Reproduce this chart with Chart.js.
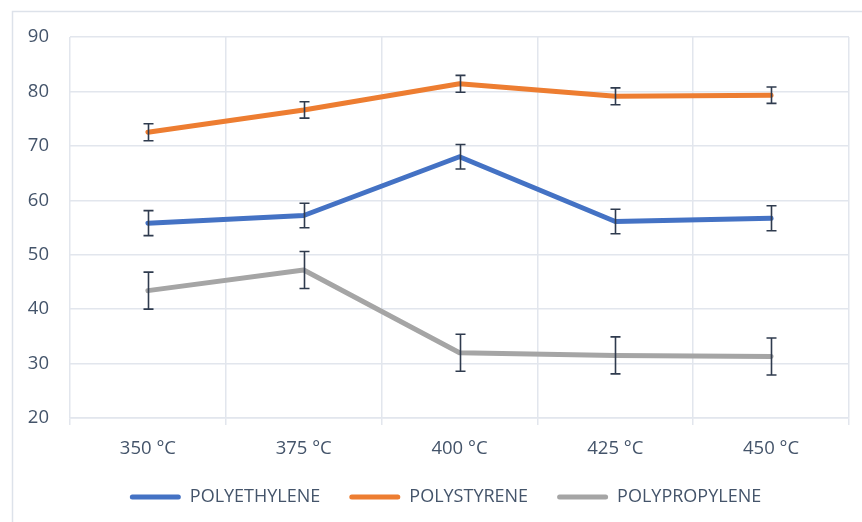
<!DOCTYPE html>
<html>
<head>
<meta charset="utf-8">
<script src="https://cdn.jsdelivr.net/npm/chart.js@4"></script>
<style>
  html, body { margin: 0; padding: 0; background: #ffffff; }
  #wrap { width: 862px; height: 522px; }
</style>
</head>
<body>
<div id="wrap"><canvas id="c" width="862" height="522"></canvas></div>
<script>
const categories = ['350 °C', '375 °C', '400 °C', '425 °C', '450 °C'];
const seriesNames = ['POLYETHYLENE', 'POLYSTYRENE', 'POLYPROPYLENE'];
const polyethylene = [55.8, 57.2, 68.0, 56.1, 56.7];
const polystyrene = [72.5, 76.6, 81.4, 79.1, 79.3];
const polypropylene = [43.4, 47.2, 32.0, 31.5, 31.3];
const polyethyleneErr = [2.3, 2.25, 2.25, 2.25, 2.3];
const polystyreneErr = [1.55, 1.5, 1.55, 1.55, 1.5];
const polypropyleneErr = [3.4, 3.4, 3.4, 3.4, 3.4];
const yTicks = [20, 30, 40, 50, 60, 70, 80, 90];

const colors = ['#4472C4', '#ED7D31', '#A5A5A5'];
const textColor = '#44546A';
const gridColor = '#E2E6ED';
const fontFamily = '"Open Sans", "Liberation Sans", sans-serif';

const values = [polyethylene, polystyrene, polypropylene];
const errors = [polyethyleneErr, polystyreneErr, polypropyleneErr];

const frame = {
  id: 'frame',
  beforeDraw(chart) {
    const ctx = chart.ctx;
    ctx.save();
    ctx.strokeStyle = '#DDE2EA';
    ctx.lineWidth = 1.5;
    ctx.beginPath();
    ctx.moveTo(12.5, chart.height);
    ctx.lineTo(12.5, 11.5);
    ctx.lineTo(chart.width, 11.5);
    ctx.stroke();
    ctx.restore();
  }
};

const legendShift = {
  id: 'legendShift',
  afterLayout(chart) {
    const lg = chart.legend;
    if (lg) { lg.left -= 14; lg.right -= 14; lg.top -= 5; lg.bottom -= 5; }
  }
};

const errorBars = {
  id: 'errorBars',
  afterDatasetsDraw(chart) {
    const ctx = chart.ctx;
    const x = chart.scales.x, y = chart.scales.y;
    ctx.save();
    ctx.strokeStyle = '#2F3B4E';
    ctx.lineWidth = 1.6;
    values.forEach((vals, si) => {
      vals.forEach((v, i) => {
        const px = Math.round(x.getPixelForValue(i)) + 0.5;
        const top = y.getPixelForValue(v + errors[si][i]);
        const bot = y.getPixelForValue(v - errors[si][i]);
        ctx.beginPath();
        ctx.moveTo(px, top); ctx.lineTo(px, bot);
        ctx.moveTo(px - 5, top); ctx.lineTo(px + 5, top);
        ctx.moveTo(px - 5, bot); ctx.lineTo(px + 5, bot);
        ctx.stroke();
      });
    });
    ctx.restore();
  }
};

new Chart(document.getElementById('c'), {
  type: 'line',
  data: {
    labels: categories,
    datasets: values.map((v, i) => ({
      label: seriesNames[i],
      data: v,
      borderColor: colors[i],
      backgroundColor: colors[i],
      borderWidth: 5,
      pointRadius: 0,
      pointHoverRadius: 0,
      tension: 0,
      borderCapStyle: 'round',
      borderJoinStyle: 'round'
    }))
  },
  options: {
    responsive: false,
    animation: false,
    events: [],
    layout: { padding: { left: 0, right: 13, top: 37, bottom: 1 } },
    scales: {
      x: {
        offset: true,
        grid: { offset: true, color: gridColor, lineWidth: 1.5, drawTicks: true, tickLength: 7, tickColor: gridColor },
        border: { color: gridColor, width: 1.5 },
        ticks: { color: textColor, font: { family: fontFamily, size: 18.5 }, padding: 13, maxRotation: 0 },
        afterFit(s) { s.height = 46; }
      },
      y: {
        min: 20, max: 90,
        afterBuildTicks(s) { s.ticks = yTicks.map(v => ({ value: v })); },
        grid: { color: gridColor, lineWidth: 1.5, drawTicks: false },
        border: { display: false },
        ticks: { color: textColor, font: { family: fontFamily, size: 18.5 }, padding: 21 },
        afterFit(s) { s.width = 70; }
      }
    },
    plugins: {
      tooltip: { enabled: false },
      legend: {
        position: 'bottom',
        fullSize: false,
        labels: {
          color: textColor,
          font: { family: fontFamily, size: 18 },
          boxWidth: 51,
          boxHeight: 5,
          useBorderRadius: true,
          borderRadius: 2.5,
          padding: 29,
          generateLabels(chart) {
            return chart.data.datasets.map((d, i) => ({
              text: d.label,
              fillStyle: d.borderColor,
              strokeStyle: d.borderColor,
              lineWidth: 0,
              hidden: false,
              datasetIndex: i,
              fontColor: textColor,
              borderRadius: 2.5
            }));
          }
        }
      }
    }
  },
  plugins: [frame, legendShift, errorBars]
});
</script>
</body>
</html>
